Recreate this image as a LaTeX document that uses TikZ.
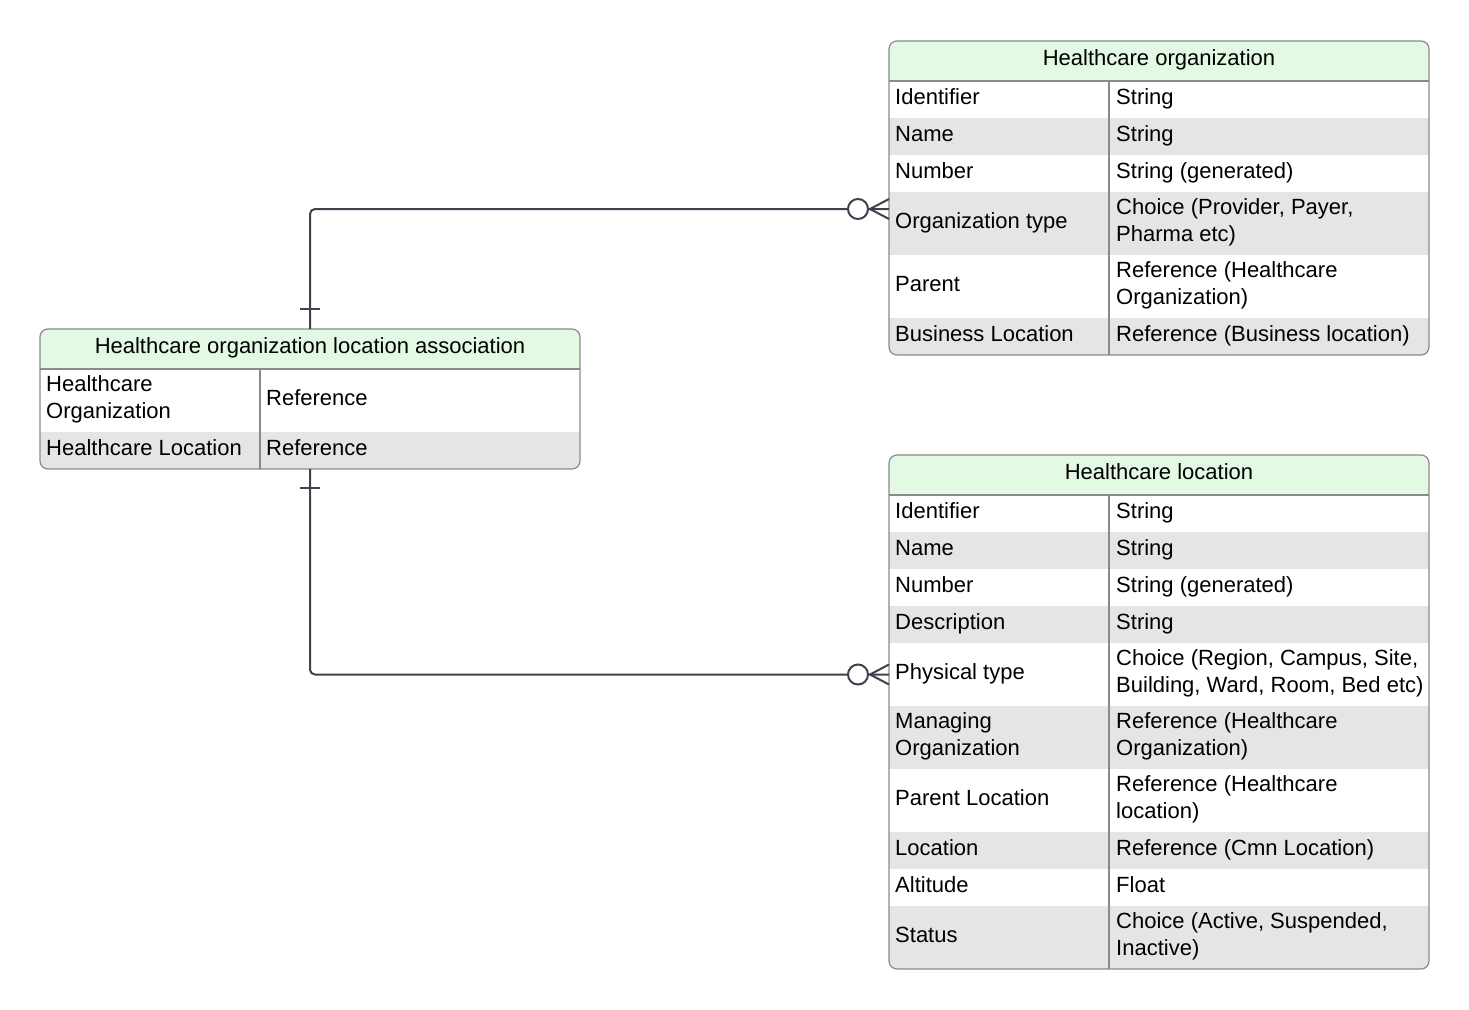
\documentclass[tikz,border=0pt]{standalone}
\usepackage{fontspec}
\setmainfont{Liberation Sans}

\definecolor{headgreen}{HTML}{E3F9E3}
\definecolor{rowgray}{HTML}{E5E5E5}
\definecolor{framegray}{HTML}{8A8A8A}
\definecolor{linkgray}{HTML}{3D424D}

\tikzset{
  cell/.style={anchor=west, inner sep=0pt, text height=15pt, text depth=5pt, font=\fontsize{22}{27}\selectfont},
  cellii/.style={anchor=west, inner sep=0pt, align=left, font=\fontsize{22}{27}\selectfont},
  head/.style={inner sep=0pt, text height=15pt, text depth=5pt, font=\fontsize{22}{27}\selectfont},
  frame/.style={draw=framegray, line width=1.2pt, rounded corners=8pt},
  rule/.style={draw=framegray, line width=1.2pt},
  link/.style={draw=linkgray, line width=2pt, rounded corners=5pt},
}

\begin{document}
\begin{tikzpicture}[x=1pt,y=-1pt]
\useasboundingbox (0,0) rectangle (1469,1009);

% Healthcare organization
\begin{scope}
\clip[rounded corners=8pt] (889,41) rectangle (1429,355);
\fill[headgreen] (889,41) rectangle (1429,81);
\fill[rowgray] (889,118) rectangle (1429,155);
\fill[rowgray] (889,192) rectangle (1429,255);
\fill[rowgray] (889,318) rectangle (1429,355);
\end{scope}
\draw[rule] (889,81) -- (1429,81);
\draw[rule] (1109,81) -- (1109,355);
\draw[frame] (889,41) rectangle (1429,355);

\node[head] (org) at (1159,60.5) {Healthcare organization};
\node[cell] (org1) at (895,99.5) {Identifier}; \node[cell] (org1t) at (1116,99.5) {String};
\node[cell] (org2) at (895,136.5) {Name}; \node[cell] (org2t) at (1116,136.5) {String};
\node[cell] (org3) at (895,173.5) {Number}; \node[cell] (org3t) at (1116,173.5) {String (generated)};
\node[cell] (org4) at (895,223.5) {Organization type}; \node[cellii] (org4t) at (1116,222.5) {Choice (Provider, Payer,\\Pharma etc)};
\node[cell] (org5) at (895,286.5) {Parent}; \node[cellii] (org5t) at (1116,285.5) {Reference (Healthcare\\Organization)};
\node[cell] (org6) at (895,336.5) {Business Location}; \node[cell] (org6t) at (1116,336.5) {Reference (Business location)};

% Healthcare organization location association
\begin{scope}
\clip[rounded corners=8pt] (40,329) rectangle (580,469);
\fill[headgreen] (40,329) rectangle (580,369);
\fill[rowgray] (40,432) rectangle (580,469);
\end{scope}
\draw[rule] (40,369) -- (580,369);
\draw[rule] (260,369) -- (260,469);
\draw[frame] (40,329) rectangle (580,469);

\node[head] (asc) at (310,348.5) {Healthcare organization location association};
\node[cellii] (asc1) at (46,399.5) {Healthcare\\Organization}; \node[cell] (asc1t) at (266,400.5) {Reference};
\node[cell] (asc2) at (46,450.5) {Healthcare Location}; \node[cell] (asc2t) at (266,450.5) {Reference};

% Healthcare location
\begin{scope}
\clip[rounded corners=8pt] (889,455) rectangle (1429,969);
\fill[headgreen] (889,455) rectangle (1429,495);
\fill[rowgray] (889,532) rectangle (1429,569);
\fill[rowgray] (889,606) rectangle (1429,643);
\fill[rowgray] (889,706) rectangle (1429,769);
\fill[rowgray] (889,832) rectangle (1429,869);
\fill[rowgray] (889,906) rectangle (1429,969);
\end{scope}
\draw[rule] (889,495) -- (1429,495);
\draw[rule] (1109,495) -- (1109,969);
\draw[frame] (889,455) rectangle (1429,969);

\node[head] (loc) at (1159,474.5) {Healthcare location};
\node[cell] (loc1) at (895,513.5) {Identifier}; \node[cell] (loc1t) at (1116,513.5) {String};
\node[cell] (loc2) at (895,550.5) {Name}; \node[cell] (loc2t) at (1116,550.5) {String};
\node[cell] (loc3) at (895,587.5) {Number}; \node[cell] (loc3t) at (1116,587.5) {String (generated)};
\node[cell] (loc4) at (895,624.5) {Description}; \node[cell] (loc4t) at (1116,624.5) {String};
\node[cell] (loc5) at (895,674.5) {Physical type}; \node[cellii] (loc5t) at (1116,673.5) {Choice (Region, Campus, Site,\\Building, Ward, Room, Bed etc)};
\node[cellii] (loc6) at (895,736.5) {Managing\\Organization}; \node[cellii] (loc6t) at (1116,736.5) {Reference (Healthcare\\Organization)};
\node[cell] (loc7) at (895,800.5) {Parent Location}; \node[cellii] (loc7t) at (1116,799.5) {Reference (Healthcare\\location)};
\node[cell] (loc8) at (895,850.5) {Location}; \node[cell] (loc8t) at (1116,850.5) {Reference (Cmn Location)};
\node[cell] (loc9) at (895,887.5) {Altitude}; \node[cell] (loc9t) at (1116,887.5) {Float};
\node[cell] (loc10) at (895,937.5) {Status}; \node[cellii] (loc10t) at (1116,936.5) {Choice (Active, Suspended,\\Inactive)};

% connectors
\coordinate (asctop) at (310,329);
\coordinate (ascbot) at (310,469);
\coordinate (orgend) at (889,209);
\coordinate (locend) at (889,674.5);

\draw[link] (asctop) |- (orgend);
\draw[link] (ascbot) |- (locend);

% one
\draw[linkgray, line width=2pt] (300,309) -- (320,309);
\draw[linkgray, line width=2pt] (300,488) -- (320,488);

% zero or many
\draw[linkgray, line width=2pt, fill=white] (858,209) circle (10);
\draw[linkgray, line width=2pt] (870,209) -- (889,199) (870,209) -- (889,219);
\draw[linkgray, line width=2pt, fill=white] (858,674.5) circle (10);
\draw[linkgray, line width=2pt] (870,674.5) -- (889,664.5) (870,674.5) -- (889,684.5);
\end{tikzpicture}
\end{document}
